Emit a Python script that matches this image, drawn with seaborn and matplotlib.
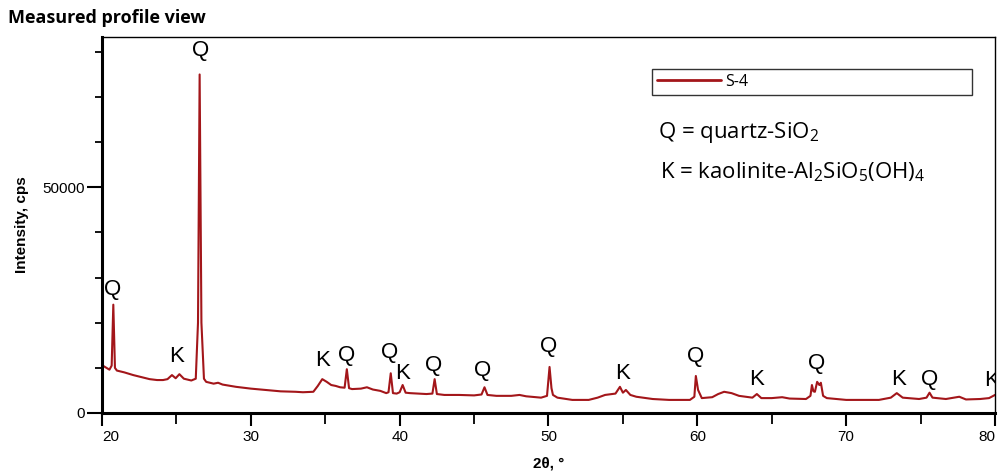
import matplotlib
matplotlib.use("Agg")
import matplotlib.pyplot as plt
import seaborn as sns
import pandas as pd
from matplotlib.ticker import MultipleLocator, FixedLocator

two_theta = [
    20.0, 20.3, 20.5, 20.65, 20.76, 20.87, 21.0, 21.5, 22.1, 22.7, 23.2, 23.7, 24.1, 24.4,
    24.7, 24.95, 25.2, 25.5, 26.0, 26.3, 26.45, 26.56, 26.68, 26.85, 27.0, 27.5, 27.8, 28.1,
    29.0, 30.0, 31.0, 32.0, 33.0, 33.5, 34.2, 34.5, 34.8, 35.1, 35.4, 35.7, 36.0, 36.3,
    36.45, 36.6, 36.8, 37.4, 37.8, 38.2, 38.7, 39.1, 39.25, 39.4, 39.55, 39.8, 40.0, 40.2,
    40.4, 40.7, 41.3, 41.8, 42.2, 42.35, 42.5, 43.0, 44.0, 45.0, 45.5, 45.7, 45.9, 46.5,
    47.5, 48.05, 48.5, 49.5, 49.9, 50.07, 50.2, 50.3, 50.6, 51.6, 52.7, 53.3, 53.8, 54.5,
    54.8, 55.0, 55.2, 55.5, 55.9, 57.0, 58.1, 59.5, 59.8, 59.9, 60.05, 60.3, 61.0, 61.4,
    61.8, 62.3, 62.8, 63.7, 64.0, 64.3, 65.0, 65.7, 66.2, 67.3, 67.6, 67.7, 67.8, 67.9,
    68.05, 68.2, 68.3, 68.45, 68.7, 70.0, 71.0, 72.2, 73.0, 73.4, 73.8, 74.9, 75.4, 75.6,
    75.8, 76.7, 77.6, 78.05, 79.0, 79.6, 80.0,
]
intensity = [
    10600, 10000, 9600, 10500, 24000, 10000, 9400, 9000, 8400, 7900, 7500, 7300, 7300, 7500,
    8400, 7700, 8600, 7600, 7200, 7600, 20000, 75000, 20000, 7600, 6900, 6500, 6700, 6300,
    5800, 5400, 5100, 4800, 4700, 4600, 4700, 6000, 7500, 6900, 6200, 6000, 5700, 5600,
    9700, 5500, 5300, 5400, 5700, 5200, 4900, 4400, 4600, 8800, 4400, 4300, 4600, 6200,
    4500, 4400, 4300, 4200, 4300, 7500, 4200, 4000, 4000, 3900, 4100, 5700, 4000, 3800,
    3800, 4000, 3700, 3400, 3800, 10200, 5500, 4000, 3400, 2900, 2900, 3400, 4000, 4300,
    5800, 4500, 5100, 4000, 3600, 3100, 2900, 2900, 3600, 8200, 5100, 3300, 3500, 4200,
    4700, 4400, 3800, 3400, 4200, 3300, 3300, 3500, 3200, 3100, 3800, 6200, 4800, 4700,
    6900, 6200, 6700, 3800, 3300, 2900, 2900, 2900, 3400, 4400, 3400, 3100, 3400, 4500,
    3400, 3100, 3600, 3000, 3100, 3300, 4000,
]
series_name = "S-4"

label_text = ["Q", "Q", "K", "K", "Q", "Q", "K", "Q", "Q", "Q", "K", "Q", "K", "Q", "K", "Q", "K"]
label_x = [26.6, 20.74, 25.0, 34.8, 36.45, 39.3, 40.2, 42.3, 45.6, 50.0, 55.0, 59.9, 64.0, 68.0, 73.5, 75.6, 79.8]
label_y = [80200, 27400, 12600, 11700, 12800, 13500, 8800, 10600, 9500, 14800, 8800, 12600, 7500, 11000, 7500, 7500, 7300]

x_ticks = [20, 30, 40, 50, 60, 70, 80]
y_ticks = [0, 50000]

# ---- plot ----
sns.set_style("ticks")
plt.rcParams["font.family"] = ["Liberation Sans", "DejaVu Sans"]
plt.rcParams["font.sans-serif"] = ["Liberation Sans", "DejaVu Sans"]
for key in ["text.color", "axes.labelcolor", "xtick.color", "ytick.color", "axes.edgecolor"]:
    plt.rcParams[key] = "black"

fig = plt.figure(figsize=(9.98, 4.76), dpi=100)
ax = fig.add_axes([102 / 998, 1 - 413 / 476, 893 / 998, 376 / 476])

df = pd.DataFrame({"2theta": two_theta, "intensity": intensity, "sample": series_name})
line_color = "#a3161a"
sns.lineplot(data=df, x="2theta", y="intensity", ax=ax, color=line_color,
             linewidth=1.5, estimator=None, label=series_name)

ax.set_xlim(20, 80)
ax.set_ylim(0, 83300)

ax.xaxis.set_major_locator(FixedLocator(x_ticks))
ax.xaxis.set_minor_locator(MultipleLocator(5))
ax.yaxis.set_major_locator(FixedLocator(y_ticks))
ax.yaxis.set_minor_locator(MultipleLocator(10000))
ax.set_xticklabels([str(t) for t in x_ticks])
ax.set_yticklabels([str(t) for t in y_ticks])

ax.tick_params(axis="x", which="major", direction="out", length=9, width=1.5, labelsize=11, pad=3)
ax.tick_params(axis="x", which="minor", direction="out", length=8, width=1.3)
ax.tick_params(axis="y", which="major", direction="out", length=11, width=1.5, labelsize=11, pad=1)
ax.tick_params(axis="y", which="minor", direction="out", length=5, width=1.3)
xl = ax.get_xticklabels()
xl[0].set_horizontalalignment("left")
xl[-1].set_horizontalalignment("right")

for side in ["left", "bottom"]:
    ax.spines[side].set_linewidth(2.2)
for side in ["top", "right"]:
    ax.spines[side].set_linewidth(1.0)
    ax.spines[side].set_visible(True)
for s in ax.spines.values():
    s.set_color("black")

ax.set_xlabel("2θ, °", fontsize=11, fontweight="bold", labelpad=9)
ax.set_ylabel("Intensity, cps", fontsize=11, fontweight="bold", labelpad=10)

for t, x, y in zip(label_text, label_x, label_y):
    ax.text(x, y, t, fontsize=16, ha="center", va="center", color="black", clip_on=True)

leg = ax.legend(loc="upper left", bbox_to_anchor=(0.616, 0.915, 0.358, 0.0),
                mode="expand", borderaxespad=0, fancybox=False, handlelength=4.0,
                handletextpad=0.3, borderpad=0.3,
                prop={"family": ["Open Sans", "DejaVu Sans"], "size": 11.5})
leg.get_frame().set_edgecolor("black")
leg.get_frame().set_linewidth(1.0)
for h in leg.get_lines():
    h.set_linewidth(2.0)

ax.text(0.623, 0.747, r"Q = quartz-SiO$\mathregular{_2}$", transform=ax.transAxes,
        fontsize=16, va="center", ha="left", family=["Open Sans", "DejaVu Sans"])
ax.text(0.625, 0.641, r"K = kaolinite-Al$\mathregular{_2}$SiO$\mathregular{_5}$(OH)$\mathregular{_4}$",
        transform=ax.transAxes, fontsize=16, va="center", ha="left",
        family=["Open Sans", "DejaVu Sans"])

fig.text(8 / 998, 1 - 18 / 476, "Measured profile view", fontsize=13, fontweight="bold",
         va="center", ha="left", family=["Open Sans", "DejaVu Sans"])

fig.savefig("out.png", dpi=100)
